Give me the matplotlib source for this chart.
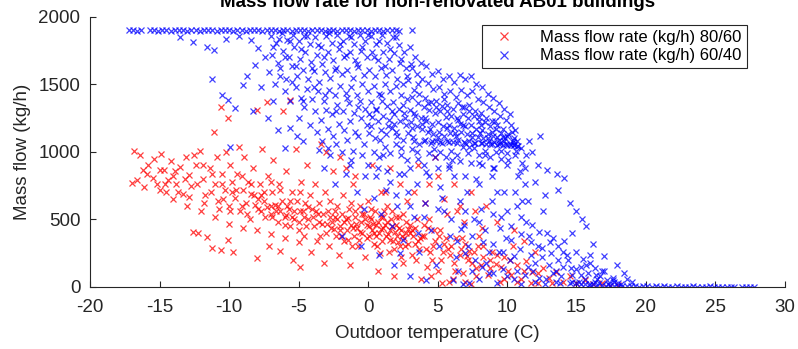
import numpy as np
import matplotlib
matplotlib.use("Agg")
import matplotlib.pyplot as plt

plt.rcParams["font.family"] = ["Liberation Sans", "DejaVu Sans"]
plt.rcParams["axes.unicode_minus"] = False

title = "Mass flow rate for non-renovated AB01 buildings"
x_label = "Outdoor temperature (C)"
y_label = "Mass flow (kg/h)"
red_label = "Mass flow rate (kg/h) 80/60"
blue_label = "Mass flow rate (kg/h) 60/40"

x_ticks = [-20, -15, -10, -5, 0, 5, 10, 15, 20, 25, 30]
y_ticks = [0, 500, 1000, 1500, 2000]

# 80/60 points (temperature C, mass flow kg/h)
red_cold = [
    (-17.0, 770), (-16.8, 1010), (-16.6, 790), (-16.4, 980), (-16.1, 740), (-15.8, 905), (-15.5, 810),
    (-15.2, 765), (-14.9, 985), (-14.7, 870), (-14.5, 700), (-14.2, 930), (-14.0, 820), (-13.8, 760),
    (-13.5, 890), (-13.3, 690), (-13.1, 960), (-12.9, 830), (-12.7, 750), (-12.6, 410), (-12.4, 905),
    (-12.2, 400), (-12.1, 1010), (-11.9, 800), (-11.7, 680), (-11.6, 370), (-11.4, 880), (-11.2, 290),
    (-11.1, 1150), (-11.0, 760), (-10.9, 960), (-10.8, 640), (-10.6, 1330), (-10.6, 275), (-10.5, 840),
    (-10.3, 720), (-10.2, 1000), (-10.1, 350), (-10.1, 1250), (-10.0, 600), (-9.9, 900), (-9.8, 780),
    (-9.7, 260), (-9.6, 660), (-9.4, 840), (-9.3, 1040), (-9.2, 560), (-9.0, 720), (-8.9, 960),
    (-8.8, 620), (-8.6, 780), (-8.5, 500), (-8.3, 880), (-8.2, 680), (-8.0, 1310), (-8.0, 215),
    (-7.9, 580), (-7.8, 760), (-7.6, 1020), (-7.5, 640), (-7.4, 520), (-7.3, 1370), (-7.2, 820),
    (-7.1, 300), (-7.0, 600), (-6.9, 700), (-6.8, 940), (-6.6, 560), (-6.5, 480), (-6.4, 760),
    (-6.3, 270), (-6.2, 640), (-6.1, 1300), (-6.0, 520), (-5.9, 860), (-5.8, 600), (-5.6, 1385),
    (-5.6, 450), (-5.5, 700), (-5.4, 200), (-5.3, 560), (-5.2, 1020), (-5.1, 640), (-5.0, 480),
    (-4.9, 150), (-4.8, 780), (-4.7, 560), (-4.6, 380), (-4.5, 620), (-4.4, 900), (-4.3, 500),
    (-4.2, 680), (-4.1, 260), (-15.9, 840), (-15.0, 870), (-14.4, 790), (-13.7, 700), (-12.9, 670),
    (-12.3, 760), (-11.8, 620), (-11.3, 700), (-10.7, 580), (-10.4, 650), (-9.9, 560), (-9.5, 720),
    (-9.1, 600), (-8.7, 540), (-8.4, 690), (-8.1, 610), (-7.7, 560), (-7.3, 590), (-6.9, 520),
    (-6.7, 610), (-6.3, 560), (-5.9, 530), (-5.7, 580), (-5.3, 500), (-4.9, 560), (-4.6, 520),
    (-4.3, 590), (-16.2, 870), (-15.4, 950), (-14.6, 760), (-13.9, 860), (-13.2, 800), (-12.5, 980),
    (-11.9, 900), (-11.2, 840), (-10.5, 760), (-9.8, 700), (-9.1, 820), (-8.4, 760), (-7.7, 680),
    (-7.0, 780), (-6.3, 720), (-5.6, 640), (-4.9, 700), (-15.0, 720), (-14.0, 650), (-13.0, 600),
    (-12.0, 560), (-11.0, 520), (-10.0, 470), (-9.0, 440), (-8.0, 420), (-7.0, 390), (-6.0, 360),
    (-5.0, 330), (-4.45, 450), (-4.95, 420), (-5.45, 520), (-5.95, 460), (-6.45, 600), (-6.95, 540),
    (-7.45, 700), (-7.95, 650),
]
red_core = [
    (-4.0, 580), (-3.9, 450), (-3.8, 760), (-3.7, 340), (-3.6, 540), (-3.5, 620), (-3.4, 1060),
    (-3.3, 470), (-3.2, 180), (-3.1, 700), (-3.0, 400), (-2.9, 560), (-2.8, 300), (-2.7, 640),
    (-2.6, 480), (-2.5, 860), (-2.4, 520), (-2.3, 380), (-2.2, 600), (-2.1, 240), (-2.0, 960),
    (-2.0, 450), (-1.9, 540), (-1.8, 680), (-1.7, 340), (-1.6, 500), (-1.5, 420), (-1.4, 580),
    (-1.3, 160), (-1.2, 460), (-1.1, 760), (-1.0, 380), (-0.9, 520), (-0.8, 440), (-0.7, 300),
    (-0.6, 600), (-0.5, 480), (-0.4, 400), (-0.3, 540), (-0.2, 220), (-0.1, 460), (0.0, 640),
    (0.1, 380), (0.2, 500), (0.3, 420), (0.4, 320), (0.5, 560), (0.6, 460), (0.7, 120), (0.8, 400),
    (0.9, 520), (1.0, 340), (1.1, 440), (1.2, 700), (1.3, 380), (1.4, 480), (1.5, 260), (1.6, 420),
    (1.7, 560), (1.8, 340), (1.9, 80), (2.0, 460), (2.1, 380), (2.2, 520), (2.3, 300), (2.4, 420),
    (2.5, 180), (2.6, 360), (2.7, 480), (2.8, 640), (2.9, 320), (3.0, 400), (3.2, 240), (3.4, 440),
    (3.6, 340), (3.8, 60), (3.9, 380), (-1.05, 440), (-0.55, 410), (0.05, 450), (0.45, 400),
    (0.95, 430), (1.45, 390), (1.95, 410), (2.45, 380), (-0.25, 500), (0.75, 480), (1.25, 460),
    (1.75, 450), (2.25, 440), (2.75, 400), (3.25, 380), (3.75, 360), (-1.75, 480), (-2.25, 500),
    (-2.75, 520), (-3.25, 540), (-3.75, 560), (-0.85, 470), (0.35, 470), (1.55, 350), (2.85, 430),
    (-1.45, 510), (-0.05, 360), (1.05, 520), (2.15, 330), (3.35, 320), (-2.05, 420), (-0.65, 350),
    (0.65, 300), (1.85, 280), (3.05, 460), (-3.55, 480), (-2.65, 440), (-1.25, 620), (0.25, 580),
    (1.35, 600), (2.55, 540), (3.55, 500), (-3.0, 1000), (-1.6, 880), (0.3, 900), (1.6, 880),
    (3.6, 900), (-0.9, 820), (2.3, 760), (0.9, 700), (-2.95, 470), (-2.45, 430), (-1.95, 380),
    (-1.45, 350), (-0.95, 560), (-0.45, 540), (0.15, 520), (0.55, 380), (1.15, 560), (1.65, 500),
    (2.05, 520), (2.65, 300), (3.15, 420), (3.65, 280), (-2.35, 560), (-1.15, 300), (0.85, 250),
    (2.35, 220), (3.45, 200), (-3.45, 380), (-3.95, 520), (3.3, 700),
]
red_warm = [
    (4.0, 380), (4.2, 280), (4.4, 500), (4.6, 200), (4.8, 340), (5.0, 120), (5.2, 420), (5.4, 260),
    (5.6, 360), (5.8, 40), (6.0, 300), (6.2, 180), (6.4, 560), (6.6, 240), (6.8, 100), (7.0, 320),
    (7.2, 200), (7.4, 20), (7.6, 260), (7.8, 140), (8.0, 380), (8.3, 220), (8.6, 90), (8.9, 260),
    (9.2, 170), (9.5, 40), (9.8, 220), (10.1, 120), (10.4, 300), (10.7, 160), (11.0, 60),
    (11.4, 190), (11.8, 110), (12.2, 30), (12.6, 140), (13.0, 70), (13.5, 110), (14.0, 40),
    (14.5, 80), (15.0, 30), (15.6, 50), (16.2, 20), (16.8, 30), (17.4, 10), (18.0, 15), (4.8, 960),
    (5.0, 820), (6.2, 760), (7.4, 700), (8.5, 600), (9.3, 480), (10.5, 420), (11.2, 340),
    (12.0, 260), (4.3, 440), (4.7, 300), (5.1, 380), (5.5, 320), (5.9, 240), (6.3, 360), (6.7, 280),
    (7.1, 230), (7.5, 180), (7.9, 300), (8.1, 160), (8.8, 200), (9.6, 150), (10.3, 90), (4.5, 80),
    (5.3, 30), (6.1, 60), (7.0, 40), (4.1, 620), (5.7, 540), (6.9, 480), (8.2, 440), (4.05, 460),
    (4.45, 260), (4.25, 150), (4.75, 420), (5.25, 200), (5.75, 280), (6.25, 120), (6.75, 360),
    (7.25, 270), (7.75, 80), (8.25, 300), (8.75, 140), (9.25, 240), (9.75, 60), (10.25, 200),
    (10.75, 40), (11.25, 120), (11.75, 30), (12.25, 100), (13.25, 30), (5.5, 650), (6.6, 600),
    (7.7, 560), (4.4, 760),
]

# 60/40 points (temperature C, mass flow kg/h)
blue_cap = [
    (-17.2, 1900), (-16.9, 1901), (-16.6, 1899), (-16.3, 1900), (-15.7, 1902), (-15.4, 1900),
    (-15.1, 1899), (-14.8, 1901), (-14.5, 1900), (-14.2, 1898), (-13.9, 1900), (-13.6, 1902),
    (-13.3, 1900), (-13.0, 1899), (-12.7, 1901), (-12.4, 1900), (-12.1, 1898), (-11.8, 1900),
    (-11.5, 1901), (-11.2, 1900), (-10.9, 1899), (-10.6, 1900), (-10.3, 1902), (-10.0, 1900),
    (-9.7, 1899), (-9.4, 1901), (-9.1, 1900), (-8.8, 1898), (-8.5, 1900), (-8.2, 1901),
    (-7.9, 1900), (-7.6, 1899), (-7.3, 1900), (-7.0, 1902), (-6.7, 1900), (-6.4, 1899),
    (-6.1, 1901), (-5.8, 1900), (-5.5, 1898), (-5.2, 1900), (-4.9, 1901), (-4.6, 1900),
    (-4.3, 1899), (-4.0, 1900), (-3.7, 1902), (-3.4, 1900), (-3.1, 1899), (-2.8, 1901),
    (-2.5, 1900), (-2.2, 1898), (-1.9, 1900), (-1.6, 1901), (-1.3, 1900), (-1.0, 1899),
    (-0.7, 1900), (-0.4, 1902), (-0.1, 1900), (0.2, 1899), (0.5, 1901), (0.8, 1900), (1.1, 1898),
    (1.4, 1900), (1.7, 1901), (2.0, 1900), (2.2, 1899), (3.2, 1905),
]
blue_sparse = [
    (-13.5, 1850), (-12.6, 1815), (-11.6, 1780), (-11.1, 1755), (-11.2, 1540), (-10.5, 1420),
    (-10.1, 1385), (-9.6, 1325), (-9.0, 1496), (-8.7, 1560), (-8.1, 1644), (-9.9, 1037),
    (-6.5, 1163), (-3.5, 1015), (-2.9, 1030), (-7.9, 1770), (-7.4, 1700), (-8.4, 1830),
    (-9.3, 1860), (-10.2, 1840), (-7.7, 1480), (-7.2, 1250), (-8.3, 1300), (-6.8, 1380),
    (-5.6, 1180), (-4.7, 1080), (-6.0, 1030), (-5.1, 1120),
]
blue_band = [
    (-7.0, 1860), (-6.9, 1720), (-7.1, 1590), (-6.6, 1810), (-6.5, 1660), (-6.7, 1500),
    (-6.2, 1880), (-6.1, 1750), (-6.3, 1620), (-6.0, 1450), (-5.8, 1830), (-5.7, 1700),
    (-5.9, 1540), (-5.6, 1380), (-5.4, 1870), (-5.3, 1780), (-5.5, 1640), (-5.2, 1480),
    (-5.0, 1820), (-4.9, 1690), (-5.1, 1560), (-4.8, 1400), (-5.0, 1250), (-4.6, 1860),
    (-4.5, 1740), (-4.7, 1610), (-4.4, 1470), (-4.6, 1330), (-4.2, 1800), (-4.1, 1670),
    (-4.3, 1540), (-4.0, 1390), (-4.2, 1200), (-3.8, 1850), (-3.7, 1720), (-3.9, 1600),
    (-3.6, 1450), (-3.8, 1300), (-3.7, 1150), (-3.4, 1780), (-3.3, 1650), (-3.5, 1520),
    (-3.2, 1380), (-3.4, 1240), (-3.3, 1080), (-3.0, 1860), (-2.9, 1740), (-3.1, 1590),
    (-2.8, 1460), (-3.0, 1310), (-2.9, 1170), (-2.6, 1810), (-2.5, 1680), (-2.7, 1550),
    (-2.4, 1420), (-2.6, 1280), (-2.5, 1120), (-2.7, 980), (-2.2, 1870), (-2.1, 1760),
    (-2.3, 1620), (-2.0, 1490), (-2.2, 1350), (-2.1, 1210), (-2.3, 1060), (-1.8, 1820),
    (-1.7, 1700), (-1.9, 1580), (-1.6, 1440), (-1.8, 1300), (-1.7, 1160), (-1.9, 1000),
    (-1.4, 1860), (-1.3, 1740), (-1.5, 1610), (-1.2, 1480), (-1.4, 1360), (-1.3, 1230),
    (-1.5, 1090), (-1.2, 940), (-1.0, 1800), (-0.9, 1680), (-1.1, 1550), (-0.8, 1420),
    (-1.0, 1290), (-0.9, 1150), (-1.1, 1010), (-0.6, 1870), (-0.5, 1750), (-0.7, 1630),
    (-0.4, 1500), (-0.6, 1380), (-0.5, 1250), (-0.7, 1120), (-0.4, 980), (-0.2, 1820),
    (-0.1, 1700), (-0.3, 1570), (0.0, 1450), (-0.2, 1320), (-0.1, 1200), (-0.3, 1060),
    (0.0, 900), (0.2, 1860), (0.3, 1740), (0.1, 1610), (0.4, 1490), (0.2, 1370), (0.3, 1260),
    (0.1, 1140), (0.4, 1000), (0.6, 1800), (0.7, 1680), (0.5, 1560), (0.8, 1430), (0.6, 1310),
    (0.7, 1230), (0.5, 1100), (0.8, 960), (0.6, 820), (1.0, 1870), (1.1, 1740), (0.9, 1620),
    (1.2, 1500), (1.0, 1380), (1.1, 1270), (0.9, 1160), (1.2, 1040), (1.4, 1810), (1.5, 1690),
    (1.3, 1570), (1.6, 1450), (1.4, 1340), (1.5, 1240), (1.3, 1130), (1.6, 990), (1.4, 860),
    (1.8, 1850), (1.9, 1730), (1.7, 1610), (2.0, 1490), (1.8, 1370), (1.9, 1280), (1.7, 1180),
    (2.0, 1060), (2.2, 1790), (2.3, 1660), (2.1, 1540), (2.4, 1420), (2.2, 1320), (2.3, 1230),
    (2.1, 1120), (2.4, 980), (2.2, 840), (2.6, 1740), (2.7, 1620), (2.5, 1500), (2.8, 1390),
    (2.6, 1290), (2.7, 1200), (2.5, 1090), (2.8, 940), (3.0, 1780), (3.1, 1650), (2.9, 1530),
    (3.2, 1410), (3.0, 1310), (3.1, 1220), (2.9, 1140), (3.2, 1020), (3.0, 880), (3.4, 1700),
    (3.5, 1580), (3.3, 1460), (3.6, 1360), (3.4, 1270), (3.5, 1190), (3.3, 1080), (3.6, 950),
    (3.8, 1660), (3.9, 1540), (3.7, 1430), (4.0, 1330), (3.8, 1250), (3.9, 1170), (3.7, 1060),
    (4.0, 900), (4.2, 1640), (4.3, 1510), (4.1, 1400), (4.4, 1310), (4.2, 1230), (4.3, 1150),
    (4.1, 1090), (4.4, 990), (4.2, 850), (4.6, 1580), (4.7, 1470), (4.5, 1370), (4.8, 1290),
    (4.6, 1210), (4.7, 1130), (4.5, 1070), (4.8, 960), (5.0, 1600), (5.1, 1480), (4.9, 1380),
    (5.2, 1300), (5.0, 1220), (5.1, 1150), (4.9, 1085), (5.2, 1000), (5.0, 880), (5.4, 1540),
    (5.5, 1430), (5.3, 1340), (5.6, 1260), (5.4, 1190), (5.5, 1120), (5.3, 1070), (5.6, 960),
    (5.8, 1560), (5.9, 1450), (5.7, 1350), (6.0, 1270), (5.8, 1200), (5.9, 1140), (5.7, 1080),
    (6.0, 1010), (5.8, 900), (6.2, 1520), (6.3, 1410), (6.1, 1320), (6.4, 1250), (6.2, 1180),
    (6.3, 1120), (6.1, 1075), (6.4, 980), (6.6, 1570), (6.7, 1460), (6.5, 1360), (6.8, 1280),
    (6.6, 1210), (6.7, 1150), (6.5, 1090), (6.8, 1040), (6.6, 930), (7.0, 1540), (7.1, 1420),
    (6.9, 1330), (7.2, 1250), (7.0, 1190), (7.1, 1130), (6.9, 1075), (7.2, 990), (7.4, 1560),
    (7.5, 1450), (7.3, 1350), (7.6, 1270), (7.4, 1200), (7.5, 1140), (7.3, 1085), (7.6, 1030),
    (7.4, 920), (7.8, 1500), (7.9, 1390), (7.7, 1300), (8.0, 1230), (7.8, 1170), (7.9, 1110),
    (7.7, 1070), (8.0, 980), (8.2, 1480), (8.3, 1370), (8.1, 1290), (8.4, 1220), (8.2, 1160),
    (8.3, 1100), (8.1, 1065), (8.4, 1010), (8.2, 900), (8.6, 1430), (8.7, 1330), (8.5, 1250),
    (8.8, 1190), (8.6, 1130), (8.7, 1080), (8.5, 1060), (8.8, 960), (9.0, 1400), (9.1, 1300),
    (8.9, 1230), (9.2, 1170), (9.0, 1120), (9.1, 1075), (8.9, 1060), (9.2, 1000), (9.0, 880),
    (9.4, 1360), (9.5, 1270), (9.3, 1200), (9.6, 1140), (9.4, 1090), (9.5, 1065), (9.3, 1055),
    (9.6, 950), (9.8, 1320), (9.9, 1240), (9.7, 1170), (10.0, 1120), (9.8, 1080), (9.9, 1060),
    (9.7, 1050), (10.0, 990), (10.2, 1280), (10.3, 1200), (10.1, 1130), (10.4, 1090),
    (10.2, 1060), (10.3, 1050), (10.1, 940), (10.6, 1160), (10.7, 1080), (10.5, 1055),
    (10.8, 1045), (10.6, 980), (11.0, 1030), (11.1, 920), (10.9, 860), (11.4, 980), (11.3, 880),
    (4.0, 1082), (4.6, 1078), (5.2, 1075), (5.8, 1072), (6.4, 1070), (7.0, 1068), (7.6, 1066),
    (8.2, 1064), (8.8, 1062), (9.4, 1058), (10.0, 1055), (10.5, 1052), (10.7, 1048),
]
blue_fill = [
    (-6.8, 1780), (-6.4, 1840), (-6.0, 1700), (-5.6, 1820), (-5.2, 1640), (-4.8, 1760), (-4.4, 1860),
    (-4.0, 1620), (-3.6, 1790), (-3.2, 1700), (-2.8, 1880), (-2.4, 1610), (-2.0, 1800), (-1.6, 1720),
    (-1.2, 1850), (-0.8, 1650), (-0.4, 1780), (0.0, 1870), (0.4, 1700), (0.8, 1820), (1.2, 1640),
    (1.6, 1760), (2.0, 1850), (2.4, 1690), (2.8, 1560), (3.2, 1620), (3.6, 1500), (-6.3, 1560),
    (-5.5, 1520), (-4.7, 1380), (-3.9, 1480), (-3.1, 1420), (-2.3, 1300), (-1.5, 1400), (-0.7, 1330),
    (0.1, 1280), (0.9, 1420), (1.7, 1300), (2.5, 1350), (3.3, 1290), (4.1, 1250), (4.9, 1330),
    (5.7, 1300), (6.5, 1240), (7.3, 1300), (8.1, 1200), (8.9, 1150), (9.7, 1110), (10.5, 1100),
    (0.25, 1190), (0.85, 1090), (1.45, 1190), (2.05, 1150), (2.65, 1250), (3.25, 1110), (3.85, 1210),
    (4.45, 1170), (5.05, 1110), (5.65, 1180), (6.25, 1140), (6.85, 1200), (7.45, 1110), (8.05, 1140),
    (8.65, 1100), (9.25, 1110), (9.85, 1100), (10.45, 1075), (1.05, 980), (2.35, 1030), (3.55, 1000),
    (4.75, 1020), (6.05, 940), (7.25, 1040), (8.45, 980), (9.55, 1010), (10.65, 1010), (0.55, 1320),
    (1.85, 1210), (3.15, 1180), (4.35, 1360), (5.45, 1390), (6.75, 1330), (7.95, 1260), (9.15, 1230),
    (10.35, 1150), (-1.3, 900), (-0.2, 820), (0.7, 880), (1.6, 780), (2.6, 840), (3.5, 760),
    (4.4, 820), (5.3, 660), (6.2, 820), (7.1, 700), (8.0, 760), (8.9, 820), (9.8, 700), (10.7, 600),
    (11.5, 640), (2.0, 680), (3.0, 600), (4.0, 520), (5.0, 580), (6.0, 500), (7.0, 560), (8.0, 480),
    (9.0, 540), (10.0, 560), (11.0, 520), (11.8, 460), (6.5, 120), (7.0, 250), (7.5, 380), (8.0, 60),
    (8.5, 180), (9.0, 320), (9.5, 440), (10.0, 80), (10.5, 230), (11.0, 390), (11.5, 150),
    (12.0, 40), (12.5, 290), (13.0, 160), (13.5, 40), (14.0, 150), (14.5, 30), (15.0, 130),
    (15.5, 210), (16.0, 20), (16.5, 60), (17.0, 120), (7.3, 30), (8.3, 330), (9.3, 30), (10.3, 350),
    (11.3, 90), (12.3, 410), (13.3, 100), (14.3, 240), (15.3, 90), (16.3, 40), (17.3, 20),
    (6.7, 430), (7.7, 200), (8.7, 100), (9.7, 260), (10.7, 120), (11.7, 240), (12.7, 20),
    (13.7, 300), (14.7, 40), (15.7, 160), (16.7, 80), (17.7, 40), (18.2, 20),
]
blue_low = [
    (-3.2, 880), (-2.4, 760), (-1.6, 840), (-0.8, 700), (-0.3, 580), (0.4, 660), (0.9, 540),
    (1.3, 720), (1.7, 450), (2.1, 600), (2.5, 350), (2.9, 700), (3.3, 520), (3.7, 260), (4.1, 620),
    (4.5, 420), (4.9, 160), (5.2, 740), (5.5, 560), (5.9, 380), (6.3, 220), (6.6, 640), (6.9, 460),
    (7.2, 300), (7.5, 120), (7.8, 800), (8.1, 580), (8.4, 420), (8.7, 260), (9.0, 100), (9.3, 700),
    (9.6, 520), (9.9, 360), (10.2, 200), (10.5, 60), (10.8, 820), (11.1, 640), (11.4, 480),
    (11.7, 330), (12.0, 180), (12.3, 70), (12.6, 560), (12.9, 400), (13.2, 250), (13.5, 120),
    (13.8, 30), (14.1, 340), (14.4, 200), (14.7, 90), (15.0, 260), (15.3, 150), (15.6, 60),
    (16.0, 180), (16.4, 90), (16.8, 120), (17.2, 50), (17.6, 70), (18.0, 30), (5.8, 880),
    (6.1, 50), (7.0, 820), (8.0, 920), (9.1, 880), (10.0, 900), (10.6, 700), (11.3, 760),
    (-1.9, 380), (-0.5, 300), (0.8, 240), (1.9, 160), (3.0, 80), (4.2, 50), (6.8, 20), (8.2, 150),
    (9.4, 260), (10.9, 280), (11.9, 120), (12.8, 60), (13.7, 200), (14.6, 140), (15.8, 100),
    (8.9, 640), (7.6, 500), (6.4, 340), (5.1, 300), (3.6, 400), (2.3, 250), (10.3, 450),
    (11.6, 380), (12.2, 300), (13.1, 330), (14.0, 260), (9.7, 130), (11.0, 20), (12.5, 220),
    (13.9, 80), (15.2, 40), (16.6, 30), (12.7, 680), (14.5, 620), (13.3, 360), (14.7, 400),
    (16.0, 240), (16.3, 140), (17.6, 50), (12.2, 900), (12.9, 870), (13.6, 840), (14.1, 810),
    (15.0, 560), (15.4, 500), (15.7, 450), (16.2, 320), (17.0, 230), (17.9, 160), (18.4, 100),
    (11.8, 1000), (12.4, 1120), (11.6, 1080), (18.6, 60), (19.0, 40), (13.7, 720), (12.0, 780),
]
blue_tail = [
    (15.0, 30), (15.3, 20), (15.6, 25), (15.9, 15), (16.2, 20), (16.5, 10), (16.8, 15), (17.1, 8),
    (17.4, 12), (17.7, 6), (18.0, 10), (18.3, 5), (18.6, 8), (18.9, 4), (19.2, 6), (19.5, 3),
    (19.8, 5), (20.1, 4), (20.4, 3), (20.7, 5), (21.0, 2), (21.3, 4), (21.6, 3), (21.9, 2),
    (22.2, 4), (22.5, 3), (22.8, 2), (23.1, 3), (23.4, 4), (23.7, 2), (24.0, 3), (24.3, 2),
    (24.6, 4), (24.9, 3), (25.2, 2), (25.5, 3), (25.8, 2), (26.1, 3), (26.3, 2), (26.9, 3),
    (27.2, 2), (27.5, 3), (27.8, 2),
]


def main():
    red = np.array(red_cold + red_core + red_warm)
    blue = np.array(blue_cap + blue_sparse + blue_band + blue_fill + blue_low + blue_tail)

    figure = plt.figure(figsize=(7.98, 3.49), dpi=100)
    axis = figure.add_axes([0.1128, 0.1777, 0.8709, 0.7736])

    style = dict(linestyle="none", marker="x", markersize=4.2, markeredgewidth=0.9, alpha=0.75)
    axis.plot(red[:, 0], red[:, 1], color=(1, 0, 0), label=red_label, **style)
    axis.plot(blue[:, 0], blue[:, 1], color=(0, 0, 1), label=blue_label, **style)

    axis.set_xlim(-20, 30)
    axis.set_ylim(0, 2000)
    axis.set_xticks(x_ticks)
    axis.set_yticks(y_ticks)
    axis.spines["top"].set_visible(False)
    axis.spines["right"].set_visible(False)
    for side in ["left", "bottom"]:
        axis.spines[side].set_color("#262626")
        axis.spines[side].set_linewidth(0.8)
    axis.tick_params(direction="in", length=4, width=0.8, colors="#262626", labelsize=13.5)
    axis.tick_params(axis="x", pad=9)
    axis.tick_params(axis="y", pad=7)
    axis.set_xlabel(x_label, fontsize=13.5, color="#262626", labelpad=6)
    axis.set_ylabel(y_label, fontsize=13.5, color="#262626", labelpad=5)

    figure.text(0.548, 0.98, title, ha="center", va="baseline", fontsize=13.5,
                fontweight="bold", color="black")

    legend = axis.legend(loc="upper right", bbox_to_anchor=(0.945, 0.97), borderaxespad=0,
                         fontsize=12, fancybox=False, framealpha=1, edgecolor="#262626",
                         handletextpad=1.2, borderpad=0.3, labelspacing=0.2, markerscale=1.5)
    legend.get_frame().set_linewidth(0.8)

    figure.savefig("out.png", dpi=100)


if __name__ == "__main__":
    main()
